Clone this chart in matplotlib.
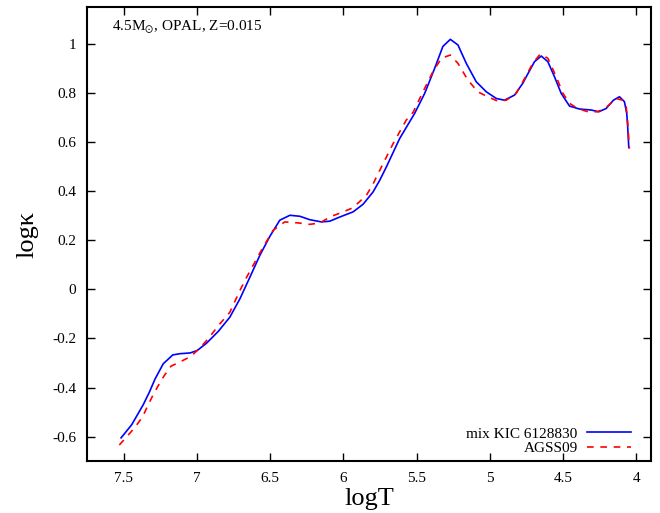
import matplotlib
matplotlib.use("Agg")
import matplotlib.pyplot as plt

plt.rcParams["font.family"] = ["Liberation Serif", "DejaVu Serif"]
plt.rcParams["mathtext.fontset"] = "stix"

# logT / log kappa
mix_logT = [7.518, 7.445, 7.366, 7.325, 7.286, 7.23, 7.165, 7.116, 7.047, 6.998,
            6.934, 6.854, 6.775, 6.706, 6.638, 6.57, 6.502, 6.434, 6.365, 6.297,
            6.229, 6.149, 6.092, 6.024, 5.933, 5.865, 5.797, 5.751, 5.706, 5.615,
            5.513, 5.444, 5.376, 5.32, 5.269, 5.217, 5.16, 5.092, 5.023, 4.955,
            4.899, 4.83, 4.774, 4.75, 4.694, 4.648, 4.603, 4.558, 4.512, 4.455,
            4.387, 4.307, 4.255, 4.205, 4.155, 4.114, 4.08, 4.064, 4.057, 4.05]
mix_kappa = [-0.605, -0.551, -0.469, -0.419, -0.365, -0.303, -0.267, -0.262, -0.259, -0.249,
             -0.219, -0.171, -0.113, -0.038, 0.05, 0.139, 0.216, 0.282, 0.302, 0.298,
             0.284, 0.275, 0.278, 0.295, 0.316, 0.347, 0.397, 0.445, 0.499, 0.615,
             0.717, 0.799, 0.901, 0.99, 1.019, 0.996, 0.921, 0.846, 0.805, 0.778,
             0.771, 0.792, 0.84, 0.867, 0.928, 0.951, 0.928, 0.867, 0.799, 0.747,
             0.735, 0.731, 0.724, 0.737, 0.771, 0.785, 0.765, 0.717, 0.656, 0.578]

agss_logT = [7.53, 7.479, 7.423, 7.37, 7.339, 7.302, 7.264, 7.223, 7.177, 7.111,
             7.041, 6.979, 6.923, 6.85, 6.775, 6.706, 6.66, 6.616, 6.547, 6.479,
             6.4, 6.309, 6.229, 6.16, 6.081, 6.013, 5.933, 5.842, 5.797, 5.774,
             5.66, 5.57, 5.524, 5.456, 5.388, 5.33, 5.269, 5.217, 5.149, 5.081,
             5.013, 4.944, 4.887, 4.819, 4.774, 4.706, 4.655, 4.603, 4.546, 4.5,
             4.455, 4.399, 4.33, 4.262, 4.2, 4.137, 4.092, 4.068, 4.057, 4.046]
agss_kappa = [-0.634, -0.6, -0.562, -0.518, -0.478, -0.433, -0.392, -0.351, -0.313, -0.294,
              -0.273, -0.238, -0.201, -0.145, -0.093, -0.004, 0.05, 0.098, 0.173, 0.241,
              0.275, 0.271, 0.265, 0.271, 0.298, 0.313, 0.333, 0.384, 0.429, 0.458,
              0.594, 0.69, 0.721, 0.805, 0.887, 0.942, 0.955, 0.921, 0.853, 0.805,
              0.785, 0.767, 0.771, 0.799, 0.846, 0.921, 0.959, 0.942, 0.867, 0.799,
              0.758, 0.737, 0.724, 0.724, 0.744, 0.778, 0.771, 0.744, 0.676, 0.574]

xticks = [7.5, 7, 6.5, 6, 5.5, 5, 4.5, 4]
xticklabels = ["7.5", "7", "6.5", "6", "5.5", "5", "4.5", "4"]
yticks = [-0.6, -0.4, -0.2, 0, 0.2, 0.4, 0.6, 0.8, 1]
yticklabels = ["-0.6", "-0.4", "-0.2", "0", "0.2", "0.4", "0.6", "0.8", "1"]

fig = plt.figure(figsize=(6.6, 5.13), dpi=100)
ax = fig.add_axes([0.132, 0.101, 0.854, 0.885])

ax.plot(mix_logT, mix_kappa, color="#0000ff", lw=1.2, label="mix KIC 6128830")
ax.plot(agss_logT, agss_kappa, color="#ff0000", lw=1.2, ls=(0, (4, 4)), label="AGSS09")

ax.set_xlim(7.75, 3.9)
ax.set_ylim(-0.7, 1.15)
ax.set_xticks(xticks)
ax.set_xticklabels(xticklabels)
ax.set_yticks(yticks)
ax.set_yticklabels(yticklabels)
ax.tick_params(direction="in", length=6, width=1, labelsize=11,
               top=True, right=True, pad=8)
for s in ax.spines.values():
    s.set_linewidth(1.5)

ax.set_xlabel("logT", fontsize=19, labelpad=2)
ax.set_ylabel("logκ", fontsize=19, labelpad=10)

ax.text(0.045, 0.975, r"4.5M$_{\odot}$, OPAL, Z=0.015", transform=ax.transAxes,
        fontsize=11, va="top", ha="left")

ax.legend(loc="lower right", frameon=False, markerfirst=False, fontsize=11,
          handlelength=2.9, handletextpad=0.6, labelspacing=0.05,
          borderaxespad=0.0, bbox_to_anchor=(0.976, 0.0))

fig.savefig("out.png", dpi=100)
